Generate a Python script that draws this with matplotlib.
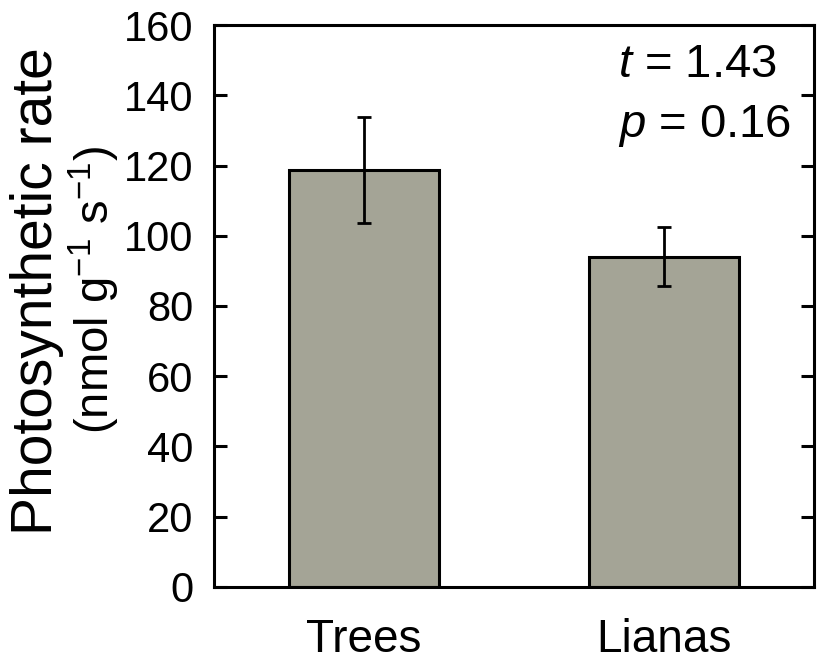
import matplotlib.pyplot as plt
import numpy as np

# data
groups = ["Trees", "Lianas"]
rate_mean = [118.7, 94.0]
rate_err = [15.2, 8.4]
yticks = [0, 20, 40, 60, 80, 100, 120, 140, 160]

plt.rcParams['font.family'] = ['Liberation Sans', 'DejaVu Sans']
plt.rcParams['mathtext.fontset'] = 'custom'
plt.rcParams['mathtext.rm'] = 'Liberation Sans'
plt.rcParams['mathtext.it'] = 'Liberation Sans:italic'

fig = plt.figure(figsize=(8.17, 6.65), dpi=100)
ax = fig.add_axes([0.262, 0.1173, 0.734, 0.8451])

x = np.arange(len(groups))
ax.bar(x, rate_mean, width=0.5, color='#a4a496', edgecolor='black', linewidth=2.2)
ax.errorbar(x, rate_mean, yerr=rate_err, fmt='none', ecolor='black',
            elinewidth=2, capsize=5, capthick=2)

ax.set_xlim(-0.5, 1.5)
ax.set_ylim(0, 160)
ax.set_yticks(yticks)
ax.set_xticks(x)
ax.set_xticklabels(groups, fontsize=33)
ax.tick_params(axis='x', length=0, pad=22)
ax.tick_params(axis='y', direction='in', length=9.5, width=2.2, labelsize=30,
               pad=15, right=True)
for s in ax.spines.values():
    s.set_linewidth(2.2)

fig.text(0.045, 0.562, "Photosynthetic rate", rotation=90, fontsize=41,
         ha='center', va='center')
fig.text(0.116, 0.564, "(nmol g$^{-1}$ s$^{-1}$)", rotation=90, fontsize=34,
         ha='center', va='center')

ax.text(0.673, 0.929, "$t$ = 1.43", transform=ax.transAxes, fontsize=34,
        ha='left', va='center')
ax.text(0.673, 0.82, "$p$ = 0.16", transform=ax.transAxes, fontsize=34,
        ha='left', va='center')

fig.savefig("out.png", dpi=100)
